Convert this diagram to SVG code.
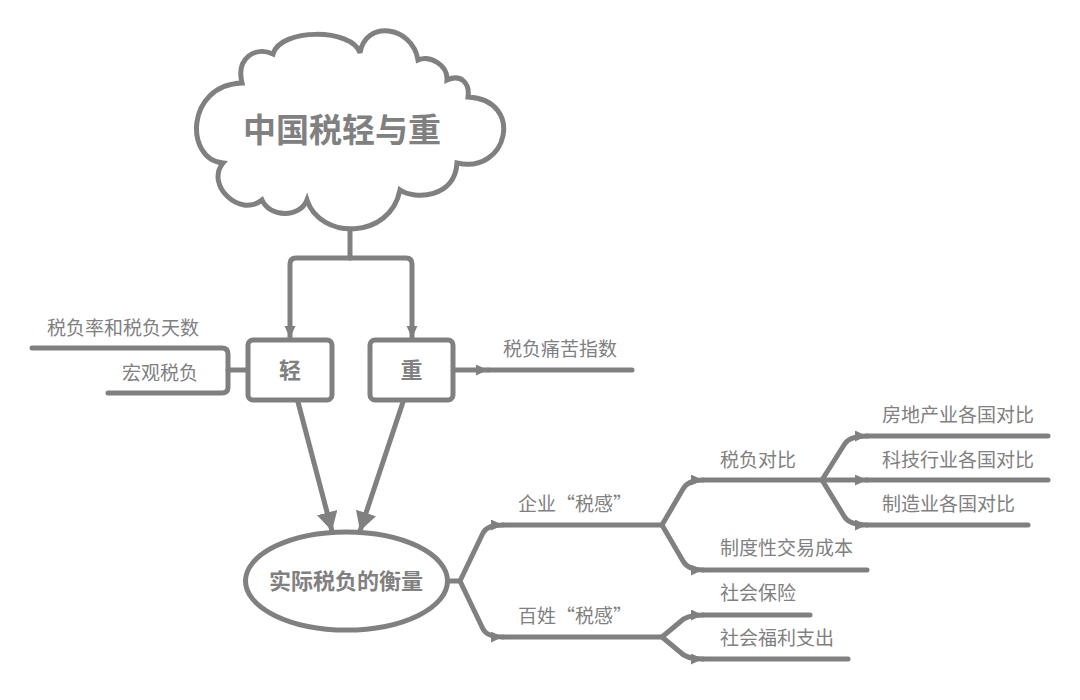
<svg xmlns="http://www.w3.org/2000/svg" width="1080" height="700" viewBox="0 0 1080 700">
<style>
.ln{fill:none;stroke:#808080;stroke-width:5;stroke-linecap:round;stroke-linejoin:round}
.sh{fill:#fff;stroke:#808080;stroke-width:5}
.lb{font-family:"Noto Sans CJK SC","Noto Sans",sans-serif;font-size:19px;fill:#808080}
.bd{font-family:"Noto Sans CJK SC","Noto Sans",sans-serif;font-weight:bold;fill:#808080;text-anchor:middle}
</style>
<defs>
<marker id="a" markerUnits="userSpaceOnUse" markerWidth="14" markerHeight="12" refX="12" refY="5.5" orient="auto" viewBox="0 0 14 12">
<path d="M0,0 L12,5.5 L0,11 Z" fill="#808080"/>
</marker>
<marker id="b" markerUnits="userSpaceOnUse" markerWidth="22" markerHeight="22" refX="19" refY="10.5" orient="auto" viewBox="0 0 22 22">
<path d="M0,0 L19,10.5 L0,21 Z" fill="#808080"/>
</marker>
</defs>
<rect width="1080" height="700" fill="#fff"/>
<g id="connectors">
<path class="ln" d="M350,230 V258"/>
<path class="ln" d="M350,258 H296 Q290,258 290,264 V338" marker-end="url(#a)"/>
<path class="ln" d="M350,258 H406 Q412,258 412,264 V338" marker-end="url(#a)"/>
<path class="ln" d="M298,402 L332,531" marker-end="url(#b)"/>
<path class="ln" d="M403,402 L360,531" marker-end="url(#b)"/>
<path class="ln" d="M248,370 H228"/>
<path class="ln" d="M32,348 H222 Q228,348 228,354 V387 Q228,393 222,393 H108"/>
<path class="ln" d="M453,370 H488" marker-end="url(#a)"/>
<path class="ln" d="M488,370 H632"/>
<path class="ln" d="M448,581 H460"/>
<path class="ln" d="M460,581 L483,533 Q487,525 503,525" marker-end="url(#a)"/>
<path class="ln" d="M460,581 L483,629 Q487,637 503,637" marker-end="url(#a)"/>
<path class="ln" d="M503,525 H662"/>
<path class="ln" d="M503,637 H662"/>
<path class="ln" d="M662,525 L683,489 Q688,480 703,480" marker-end="url(#a)"/>
<path class="ln" d="M662,525 L683,561 Q688,570 703,570" marker-end="url(#a)"/>
<path class="ln" d="M703,480 H822"/>
<path class="ln" d="M703,570 H867"/>
<path class="ln" d="M822,480 L844,445 Q849,436 867,436" marker-end="url(#a)"/>
<path class="ln" d="M822,480 H867" marker-end="url(#a)"/>
<path class="ln" d="M822,480 L844,516 Q849,525 867,525" marker-end="url(#a)"/>
<path class="ln" d="M867,436 H1048"/>
<path class="ln" d="M867,480 H1048"/>
<path class="ln" d="M867,525 H1028"/>
<path class="ln" d="M662,637 L680,622 Q686,615 703,615" marker-end="url(#a)"/>
<path class="ln" d="M662,637 L680,652 Q686,659 703,659" marker-end="url(#a)"/>
<path class="ln" d="M703,615 H810"/>
<path class="ln" d="M703,659 H848"/>
</g>
<g id="root">
<path class="sh" stroke-width="4" d="M242,83 C236,58 255,46 273,54 C280,28 352,28 360,53 C365,20 412,25 418,60 C430,55 448,65 447,80 C460,74 470,82 468,97 C525,100 508,175 457,163 C455,198 415,200 400,190 C390,240 320,240 307,200 C300,218 270,218 262,200 C240,218 205,185 223,163 C185,160 185,85 242,83 Z"/>
<text class="bd" x="342" y="142" font-size="33">中国税轻与重</text>
</g>
<g id="light">
<rect class="sh" x="248" y="340" width="84" height="60" rx="5"/>
<text class="bd" x="290" y="378" font-size="22">轻</text>
</g>
<g id="heavy">
<rect class="sh" x="370" y="340" width="83" height="60" rx="5"/>
<text class="bd" x="411.5" y="378" font-size="22">重</text>
</g>
<g id="measure">
<ellipse class="sh" cx="346.5" cy="581" rx="101" ry="49"/>
<text class="bd" x="346" y="589" font-size="22">实际税负的衡量</text>
</g>
<g id="n-rate"><text class="lb" x="47" y="335">税负率和税负天数</text></g>
<g id="n-macro"><text class="lb" x="122" y="380">宏观税负</text></g>
<g id="n-pain"><text class="lb" x="503" y="356">税负痛苦指数</text></g>
<g id="n-firm"><text class="lb" x="518" y="511">企业“税感”</text></g>
<g id="n-people"><text class="lb" x="518" y="623">百姓“税感”</text></g>
<g id="n-compare"><text class="lb" x="720" y="467">税负对比</text></g>
<g id="n-realestate"><text class="lb" x="882" y="422">房地产业各国对比</text></g>
<g id="n-tech"><text class="lb" x="882" y="467">科技行业各国对比</text></g>
<g id="n-manu"><text class="lb" x="882" y="511">制造业各国对比</text></g>
<g id="n-inst"><text class="lb" x="720" y="555">制度性交易成本</text></g>
<g id="n-insurance"><text class="lb" x="720" y="600">社会保险</text></g>
<g id="n-welfare"><text class="lb" x="720" y="645">社会福利支出</text></g>
</svg>
